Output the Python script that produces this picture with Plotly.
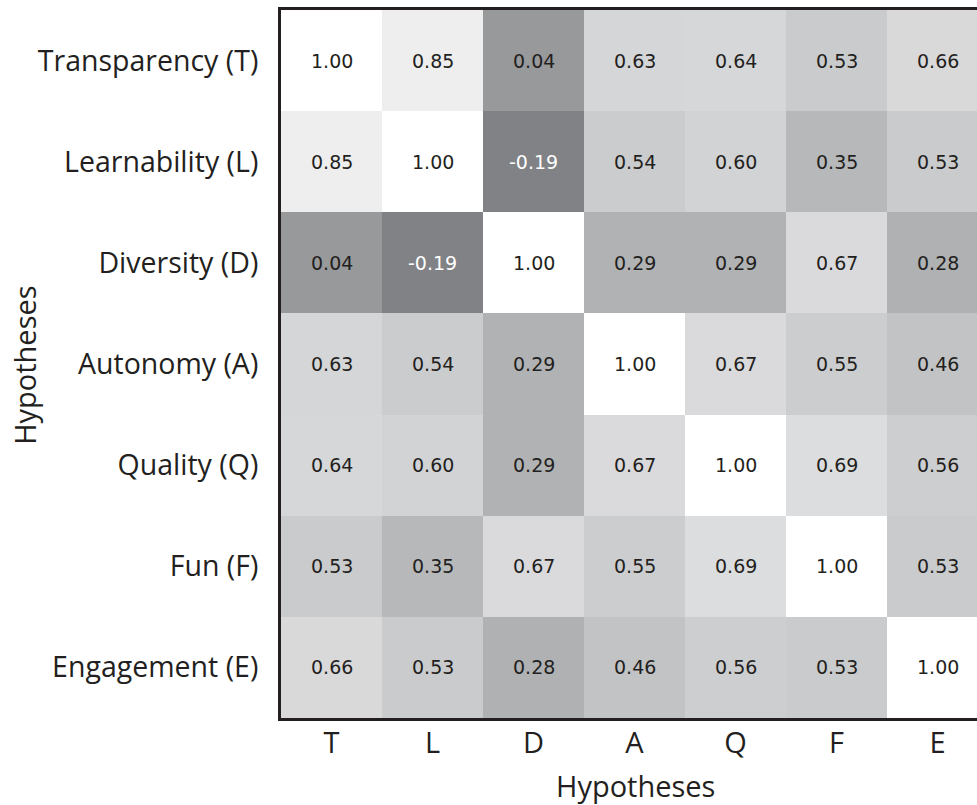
import plotly.graph_objects as go

row_labels = ["Transparency (T)", "Learnability (L)", "Diversity (D)", "Autonomy (A)",
              "Quality (Q)", "Fun (F)", "Engagement (E)"]
col_labels = ["T", "L", "D", "A", "Q", "F", "E"]
values = [
    [1.00, 0.85, 0.04, 0.63, 0.64, 0.53, 0.66],
    [0.85, 1.00, -0.19, 0.54, 0.60, 0.35, 0.53],
    [0.04, -0.19, 1.00, 0.29, 0.29, 0.67, 0.28],
    [0.63, 0.54, 0.29, 1.00, 0.67, 0.55, 0.46],
    [0.64, 0.60, 0.29, 0.67, 1.00, 0.69, 0.56],
    [0.53, 0.35, 0.67, 0.55, 0.69, 1.00, 0.53],
    [0.66, 0.53, 0.28, 0.46, 0.56, 0.53, 1.00],
]
axis_title = "Hypotheses"

fig = go.Figure(go.Heatmap(
    z=values, x=list(range(len(col_labels))), y=list(range(len(row_labels))),
    zmin=-0.19, zmax=1.0,
    colorscale=[[0, "rgb(128,130,133)"], [0.5, "rgb(188,189,191)"], [1, "rgb(255,255,255)"]],
    showscale=False, hoverinfo="skip",
))

annotations = []
for i, row in enumerate(values):
    for j, v in enumerate(row):
        annotations.append(dict(
            x=j, y=i, xref="x", yref="y", text=f"{v:.2f}", showarrow=False,
            font=dict(family="DejaVu Sans", size=19,
                      color="white" if v < 0 else "#231f20"),
        ))
annotations.append(dict(x=0.51, y=-0.095, xref="paper", yref="paper", text=axis_title,
                        showarrow=False, yanchor="middle", xanchor="center",
                        font=dict(family="Open Sans", size=29, color="#231f20")))
annotations.append(dict(x=-0.368, y=0.4986, xref="paper", yref="paper", text=axis_title,
                        showarrow=False, textangle=-90, yanchor="middle", xanchor="center",
                        font=dict(family="Open Sans", size=29, color="#231f20")))

fig.update_layout(
    width=977, height=805,
    margin=dict(l=281, r=0, t=10, b=87),
    paper_bgcolor="white", plot_bgcolor="white",
    annotations=annotations,
    xaxis=dict(range=[-0.5, -0.5 + 696 / 101], tickmode="array",
               tickvals=list(range(len(col_labels))), ticktext=col_labels,
               showline=True, mirror=True, linecolor="#231f20", linewidth=3,
               showgrid=False, zeroline=False, ticks="", ticklabelstandoff=-3,
               tickfont=dict(family="Open Sans", size=29, color="#231f20")),
    yaxis=dict(range=[6.5, -0.5], tickmode="array",
               tickvals=list(range(len(row_labels))), ticktext=row_labels,
               showline=True, mirror=False, linecolor="#231f20", linewidth=3,
               showgrid=False, zeroline=False, ticks="", ticklabelstandoff=14,
               tickfont=dict(family="Open Sans", size=28.5, color="#231f20")),
)

fig.write_html("out.html")
